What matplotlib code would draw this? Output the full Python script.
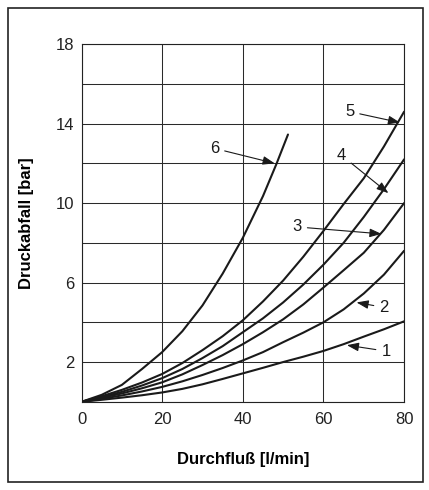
import matplotlib
matplotlib.use('Agg')

import matplotlib.pyplot as plt
from matplotlib.patches import Rectangle

plt.rcParams['font.family'] = ['Liberation Sans', 'DejaVu Sans']

q = [0, 5, 10, 15, 20, 25, 30, 35, 40, 45, 50, 55, 60, 65, 70, 75, 80]

y1 = [0, 0.1, 0.21, 0.33, 0.47, 0.65, 0.88, 1.15, 1.43, 1.71, 2.0, 2.27, 2.56, 2.9, 3.28, 3.65, 4.05]
y2 = [0, 0.15, 0.32, 0.52, 0.75, 1.03, 1.35, 1.7, 2.08, 2.5, 3.0, 3.48, 4.0, 4.65, 5.45, 6.4, 7.6]
y3 = [0, 0.2, 0.42, 0.68, 0.98, 1.38, 1.85, 2.35, 2.9, 3.5, 4.15, 4.9, 5.75, 6.62, 7.5, 8.65, 10.0]
y4 = [0, 0.24, 0.5, 0.82, 1.19, 1.65, 2.2, 2.8, 3.5, 4.2, 5.0, 5.9, 6.9, 8.0, 9.3, 10.7, 12.2]
y5 = [0, 0.28, 0.6, 0.97, 1.4, 1.95, 2.6, 3.3, 4.1, 5.05, 6.1, 7.3, 8.6, 9.95, 11.25, 12.85, 14.6]

q6 = [0, 5, 10, 15, 20, 25, 30, 35, 40, 45, 48.3, 51.2]
y6 = [0, 0.35, 0.85, 1.65, 2.5, 3.55, 4.85, 6.45, 8.25, 10.35, 11.95, 13.45]

kurven = [(q, y1), (q, y2), (q, y3), (q, y4), (q, y5), (q6, y6)]

# Beschriftung: Nummer, Textposition, Pfeilspitze
nummern = ['1', '2', '3', '4', '5', '6']
text_pos = [(75.5, 2.55), (75.0, 4.75), (53.5, 8.8), (64.5, 12.4), (66.5, 14.6), (33.0, 12.75)]
pfeil_ziel = [(65.8, 2.85), (68.2, 5.0), (74.4, 8.45), (76.1, 10.5), (79.0, 14.05), (47.9, 12.0)]

x_ticks = [0, 20, 40, 60, 80]
y_ticks = [2, 6, 10, 14, 18]
y_grid = [0, 2, 4, 6, 8, 10, 12, 14, 16, 18]

fig = plt.figure(figsize=(4.29, 4.90), dpi=100)
ax = fig.add_axes([0.19, 0.18, 0.752, 0.73])

# Gitter
for g in y_grid:
    ax.axhline(g, color='#2a2a2a', lw=0.75, zorder=1)
for g in x_ticks:
    ax.axvline(g, color='#2a2a2a', lw=0.75, zorder=1)

for xs, ys in kurven:
    ax.plot(xs, ys, color='#1a1a1a', lw=1.5, solid_capstyle='round',
            solid_joinstyle='round', zorder=3)

for n, tp, pz in zip(nummern, text_pos, pfeil_ziel):
    ax.annotate(n, xy=pz, xytext=tp, fontsize=12, color='#1a1a1a',
                ha='center', va='center', zorder=4,
                arrowprops=dict(arrowstyle='-|>,head_length=0.55,head_width=0.2',
                                color='#1a1a1a', lw=0.8,
                                mutation_scale=13, shrinkA=2, shrinkB=0))

ax.set_xlim(0, 80)
ax.set_ylim(0, 18)
ax.set_xticks(x_ticks)
ax.set_yticks(y_ticks)
ax.tick_params(length=0, labelsize=12, colors='#222222')
ax.tick_params(axis='x', pad=7)
ax.tick_params(axis='y', pad=5)
for s in ax.spines.values():
    s.set_linewidth(0.8)
    s.set_color('#222222')

ax.set_xlabel('Durchfluß [l/min]', fontsize=12, fontweight='bold', labelpad=18)
ax.set_ylabel('Druckabfall [bar]', fontsize=12, fontweight='bold', labelpad=16)

# Rahmen um das ganze Bild
fig.patches.append(Rectangle((0.019, 0.016), 0.968, 0.968, transform=fig.transFigure,
                             fill=False, lw=1.2, edgecolor='#222222'))

plt.savefig('out.png', dpi=100)
